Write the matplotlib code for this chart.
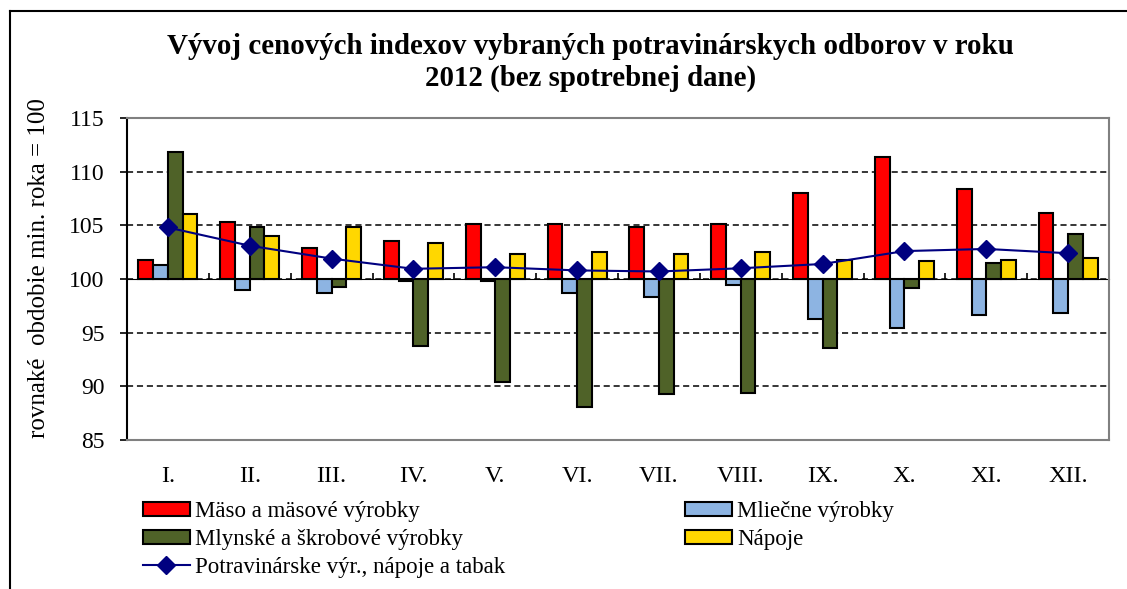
import matplotlib
matplotlib.use("Agg")
import matplotlib.pyplot as plt
import numpy as np
from matplotlib.lines import Line2D

plt.rcParams['font.family'] = ['Liberation Serif', 'DejaVu Serif']

months = ["I.", "II.", "III.", "IV.", "V.", "VI.", "VII.", "VIII.", "IX.", "X.", "XI.", "XII."]
maso = [101.8, 105.3, 102.85, 103.5, 105.15, 105.15, 104.85, 105.15, 108.0, 111.35, 108.35, 106.15]
mlieko = [101.3, 98.95, 98.65, 99.85, 99.85, 98.65, 98.3, 99.45, 96.3, 95.45, 96.6, 96.8]
mlyn = [111.85, 104.85, 99.3, 93.75, 90.45, 88.1, 89.25, 89.4, 93.6, 99.15, 101.5, 104.15]
napoje = [106.1, 104.0, 104.85, 103.35, 102.3, 102.5, 102.3, 102.5, 101.8, 101.65, 101.8, 102.0]
potrav = [104.8, 103.1, 101.9, 100.95, 101.1, 100.8, 100.7, 101.0, 101.4, 102.6, 102.8, 102.4]

series = [
    ("Mäso a mäsové výrobky", maso, "#FF0000"),
    ("Mliečne výrobky", mlieko, "#8DB4E2"),
    ("Mlynské a škrobové výrobky", mlyn, "#4F6228"),
    ("Nápoje", napoje, "#FFD700"),
]
line_name = "Potravinárske výr., nápoje a tabak"
base = 100

W, H = 1127, 589
fig = plt.figure(figsize=(W / 100, H / 100), dpi=100)
ax = fig.add_axes([127 / W, 1 - 440 / H, (1109 - 127) / W, (440 - 118) / H])

x = np.arange(len(months))
bw = 0.18
handles = {}
for i, (name, vals, col) in enumerate(series):
    v = np.array(vals)
    b = ax.bar(x + (i - 1.5) * bw, v - base, bottom=base, width=bw, color=col,
               edgecolor='black', linewidth=1.5, zorder=3, label=name)
    handles[name] = b
ln, = ax.plot(x, potrav, color='#000080', lw=1.5, marker='D', markersize=9,
              markerfacecolor='#000080', markeredgecolor='#000080', zorder=5, label=line_name)
handles[line_name] = ln

ax.set_xlim(-0.5, len(months) - 0.5)
ax.set_ylim(85, 115)
ax.set_yticks(np.arange(85, 116, 5))
ax.tick_params(axis='y', labelsize=17, direction='out', length=5, width=1.2, pad=11, color='black')
ax.set_xticks(x)
ax.set_xticklabels(months, fontsize=17.5)
ax.tick_params(axis='x', length=0, pad=19)
ax.yaxis.grid(True, linestyle=(0, (4, 2.5)), color='black', lw=1.1, zorder=0)
ax.set_axisbelow(True)
for s in ['top', 'right', 'bottom']:
    ax.spines[s].set_color('#808080')
    ax.spines[s].set_linewidth(1.5)
ax.spines['left'].set_color('black')
ax.spines['left'].set_linewidth(1.5)

# category axis crossing at 100
sec = ax.secondary_xaxis((base - 85) / 30)
sec.set_xticks(np.arange(-0.5, len(months), 1.0))
sec.set_xticklabels([])
sec.tick_params(direction='out', length=4, width=1.2, color='black')
sec.spines['bottom'].set_color('black')
sec.spines['bottom'].set_linewidth(1.5)
sec.spines['bottom'].set_zorder(4)

fig.text(39 / W, 1 - 268 / H, "rovnaké  obdobie min. roka = 100", rotation=90,
         ha='center', va='center', fontsize=18)

fig.text(0.524, 1 - 47 / H, "Vývoj cenových indexov vybraných potravinárskych odborov v roku",
         ha='center', va='center', fontsize=20.8, fontweight='bold')
fig.text(0.524, 1 - 78 / H, "2012 (bez spotrebnej dane)",
         ha='center', va='center', fontsize=20.8, fontweight='bold')

leg_kw = dict(frameon=False, fontsize=16.5, handlelength=2.05, handleheight=0.58,
              labelspacing=0.3, handletextpad=0.22, borderpad=0, borderaxespad=0)
l1names = ["Mäso a mäsové výrobky", "Mlynské a škrobové výrobky", line_name]
l2names = ["Mliečne výrobky", "Nápoje"]
fig.legend([handles[n] for n in l1names], l1names, loc='upper left',
           bbox_to_anchor=(143 / W, 1 - 501 / H), **leg_kw)
fig.legend([handles[n] for n in l2names], l2names, loc='upper left',
           bbox_to_anchor=(685 / W, 1 - 501 / H), **leg_kw)

# chart frame
fig.add_artist(Line2D([10 / W, 10 / W], [0, 1 - 11 / H], transform=fig.transFigure, color='black', lw=1.5))
fig.add_artist(Line2D([10 / W, 1], [1 - 11 / H, 1 - 11 / H], transform=fig.transFigure, color='black', lw=1.5))

fig.savefig("out.png", dpi=100)
